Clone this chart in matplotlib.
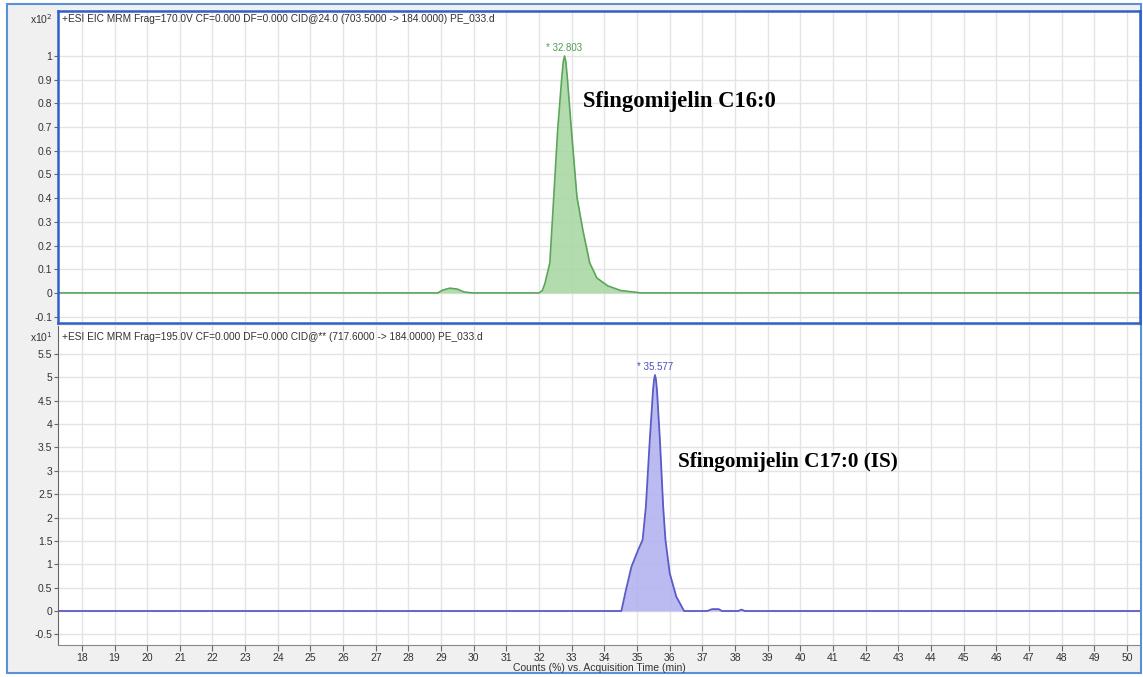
import matplotlib.pyplot as plt
from matplotlib.patches import Rectangle

# Chromatogram traces (time in min, counts scaled as on the axis)
t_c16 = [17.27, 28.9, 29.05, 29.27, 29.5, 29.7, 29.95, 32.0, 32.1, 32.18, 32.33, 32.45,
         32.57, 32.69, 32.74, 32.78, 32.82, 32.87, 32.99, 33.16, 33.34, 33.55, 33.77,
         34.1, 34.5, 35.0, 35.1, 50.43]
y_c16 = [0, 0, 0.012, 0.02, 0.016, 0.004, 0, 0, 0.01, 0.04, 0.127, 0.405,
         0.688, 0.9, 0.975, 1.0, 0.975, 0.9, 0.688, 0.405, 0.266, 0.127, 0.063,
         0.03, 0.01, 0.002, 0, 0]

t_c17 = [17.27, 34.52, 34.66, 34.83, 35.03, 35.17, 35.27, 35.39, 35.49, 35.52, 35.55,
         35.58, 35.61, 35.70, 35.80, 35.87, 36.0, 36.2, 36.44, 37.15, 37.3, 37.5, 37.6,
         38.1, 38.2, 38.3, 50.43]
y_c17 = [0, 0, 0.45, 0.95, 1.3, 1.52, 2.23, 3.66, 4.73, 4.95, 5.05,
         4.95, 4.73, 3.66, 2.23, 1.52, 0.81, 0.31, 0, 0, 0.04, 0.04, 0,
         0, 0.03, 0, 0]

peak_c16 = (32.78, 1.0, '32.803')
peak_c17 = (35.55, 5.05, '35.577')

hdr_c16 = '+ESI EIC MRM Frag=170.0V CF=0.000 DF=0.000 CID@24.0 (703.5000 -> 184.0000) PE_033.d'
hdr_c17 = '+ESI EIC MRM Frag=195.0V CF=0.000 DF=0.000 CID@** (717.6000 -> 184.0000) PE_033.d'

yt_c16 = [-0.1, 0, 0.1, 0.2, 0.3, 0.4, 0.5, 0.6, 0.7, 0.8, 0.9, 1]
yt_c17 = [-0.5, 0, 0.5, 1, 1.5, 2, 2.5, 3, 3.5, 4, 4.5, 5, 5.5]
xt = list(range(18, 51))

W, H = 1143, 677
plt.rcParams['font.family'] = ['Liberation Sans', 'DejaVu Sans']
fig = plt.figure(figsize=(W / 100, H / 100), dpi=100)
fig.patch.set_facecolor('white')

# grey window background with blue frame
frame = Rectangle((7 / W, 4 / H), 1134 / W, 669 / H, transform=fig.transFigure,
                  facecolor='#f0f0f0', edgecolor='#5b8fd6', lw=1.5, zorder=-10)
fig.patches.append(frame)

ax1 = fig.add_axes([58 / W, (H - 323) / H, 1082 / W, 312 / H])
ax2 = fig.add_axes([58 / W, (H - 645) / H, 1082 / W, 319 / H])


def style(ax, yt, ylim):
    ax.set_facecolor('white')
    ax.set_xlim(17.27, 50.40)
    ax.set_ylim(*ylim)
    ax.set_xticks(xt)
    ax.set_yticks(yt)
    ax.set_yticklabels(['%g' % v for v in yt])
    ax.grid(True, color='#e4e4e4', lw=1)
    ax.set_axisbelow(True)
    ax.tick_params(axis='y', labelsize=7.5, labelcolor='#333333', color='#666666',
                   length=3, width=0.8, pad=1)


style(ax1, yt_c16, (-0.127, 1.19))
style(ax2, yt_c17, (-0.728, 6.10))

for s in ax1.spines.values():
    s.set_color('#3060c8')
    s.set_linewidth(1.8)
ax1.tick_params(axis='x', length=0, labelbottom=False)

ax2.spines['top'].set_visible(False)
ax2.spines['right'].set_visible(False)
ax2.spines['left'].set_color('#666666')
ax2.spines['bottom'].set_color('#888888')
ax2.tick_params(axis='x', labelsize=7.5, labelcolor='#333333', color='#666666',
                length=4, width=0.8, pad=2)
ax2.set_xlabel('Counts (%) vs. Acquisition Time (min)', fontsize=7.5, color='#333333',
               labelpad=0)

# traces
ax1.fill_between(t_c16, y_c16, 0, color='#a6d6a0', alpha=0.85, lw=0)
ax1.plot(t_c16, y_c16, color='#5aa55a', lw=1.2)
ax2.fill_between(t_c17, y_c17, 0, color='#b4b4f0', alpha=0.9, lw=0)
ax2.plot(t_c17, y_c17, color='#5a5ac8', lw=1.3)

ax1.annotate('* ' + peak_c16[2], (peak_c16[0], peak_c16[1]), xytext=(0, 2),
             textcoords='offset points', ha='center', va='bottom', fontsize=7,
             color='#4f9a4f')
ax2.annotate('* ' + peak_c17[2], (peak_c17[0], peak_c17[1]), xytext=(0, 2),
             textcoords='offset points', ha='center', va='bottom', fontsize=7,
             color='#4a4ac0')

ax1.text(33.34, 0.81, 'Sfingomijelin C16:0', fontsize=16.3, fontweight='bold',
         family='Liberation Serif', va='center', ha='left')
ax2.text(36.25, 3.19, 'Sfingomijelin C17:0 (IS)', fontsize=15.3, fontweight='bold',
         family='Liberation Serif', va='center', ha='left')

ax1.text(4 / 1082, 1 - 8 / 312, hdr_c16, transform=ax1.transAxes, fontsize=7.3,
         color='#333333', va='center', ha='left')
ax2.text(4 / 1082, 1 - 11 / 319, hdr_c17, transform=ax2.transAxes, fontsize=7.3,
         color='#333333', va='center', ha='left')

fig.text(53 / W, 1 - 19 / H, r'x10$^{2}$', fontsize=7.5, color='#333333',
         ha='right', va='center')
fig.text(53 / W, 1 - 337 / H, r'x10$^{1}$', fontsize=7.5, color='#333333',
         ha='right', va='center')

fig.savefig('out.png', dpi=100)
